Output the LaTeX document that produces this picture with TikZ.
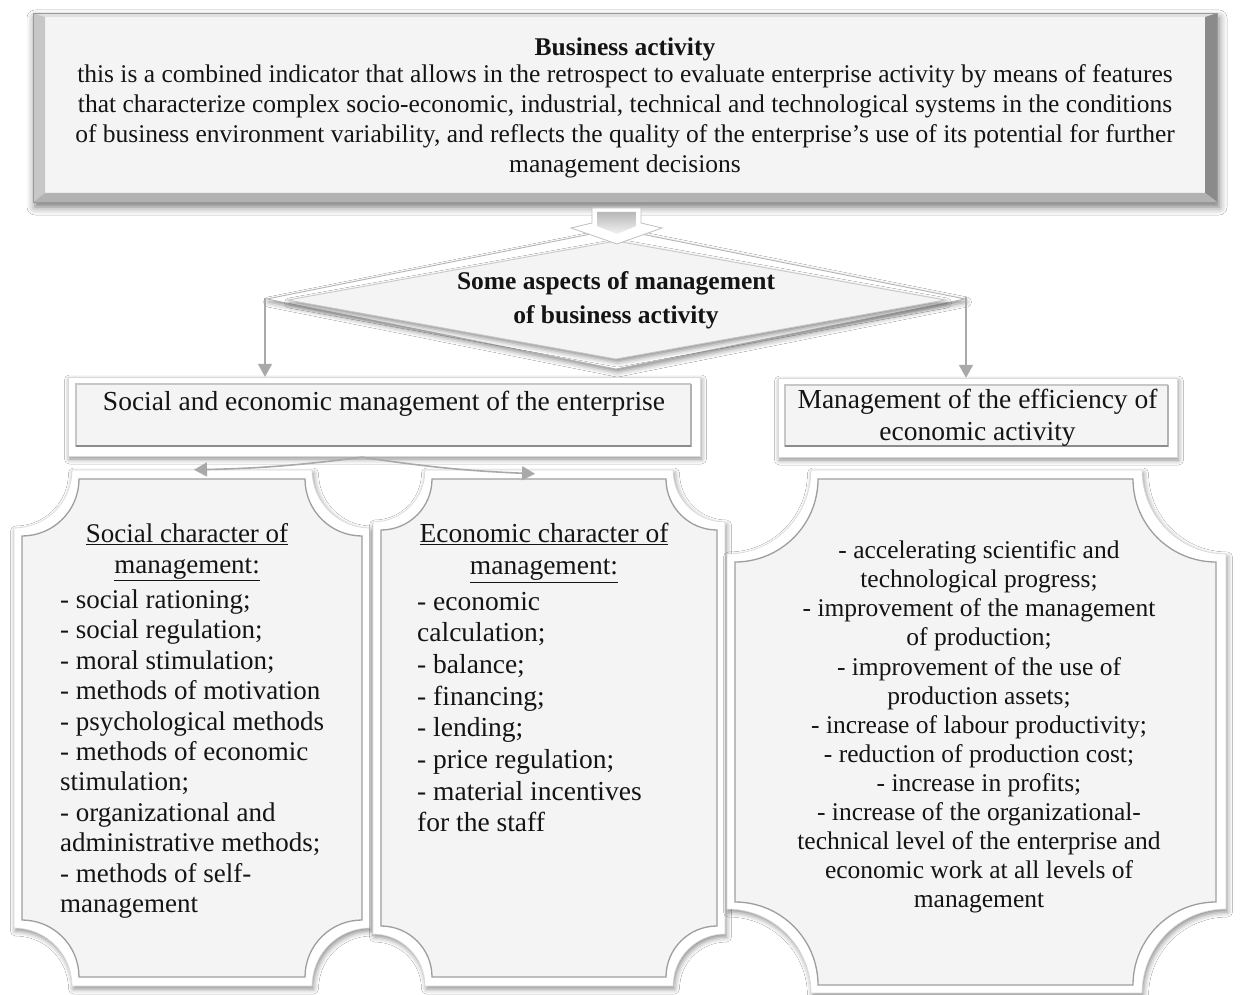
\documentclass[tikz,border=0pt]{standalone}
\usepackage{fontspec}
\setmainfont{Liberation Serif}
\usetikzlibrary{arrows.meta,shadows.blur,calc}
\definecolor{face}{HTML}{F4F4F4}
\definecolor{lineg}{HTML}{A9A9A9}
\tikzset{
  garrow/.style={draw=lineg, line width=1.8pt, -{Triangle[width=14pt,length=13pt,fill=lineg]}},
  shd/.style={blur shadow={shadow xshift=1.5pt, shadow yshift=-3pt, shadow blur radius=5pt, shadow opacity=45}},
  bigshd/.style={blur shadow={shadow xshift=2pt, shadow yshift=-5pt, shadow blur radius=8pt, shadow opacity=55}},
  outerpanel/.style={fill=white, draw=black!18, line width=0.6pt, shd},
  innerface/.style={fill=face, draw=black!38, line width=1.3pt},
  txt/.style={inner sep=0pt, text=black!92, align=center},
  frame/.style={inner sep=0pt, draw=none},
}
\newcommand\plaq[6]{%
  \pgfmathsetmacro\pk{0.5523*#5}%
  \path[#6] (#1+#5,#2) -- (#3-#5,#2)
    .. controls (#3-#5,#2+\pk) and (#3-\pk,#2+#5) .. (#3,#2+#5)
    -- (#3,#4-#5)
    .. controls (#3-\pk,#4-#5) and (#3-#5,#4-\pk) .. (#3-#5,#4)
    -- (#1+#5,#4)
    .. controls (#1+#5,#4-\pk) and (#1+\pk,#4-#5) .. (#1,#4-#5)
    -- (#1,#2+#5)
    .. controls (#1+\pk,#2+#5) and (#1+#5,#2+\pk) .. (#1+#5,#2) -- cycle;}
\begin{document}
\begin{tikzpicture}[x=1pt,y=-1pt]
\useasboundingbox (0,0) rectangle (1240,995);
\fill[white] (0,0) rectangle (1240,995);

% ---------- top box ----------
\fill[face, bigshd] (33,13) rectangle (1217,202);
\fill[black!12] (33,13) -- (1217,13) -- (1205,17) -- (45,17) -- cycle;
\fill[black!22] (33,13) -- (45,17) -- (45,193) -- (33,202) -- cycle;
\fill[black!46] (1217,13) -- (1205,17) -- (1205,193) -- (1217,202) -- cycle;
\fill[black!30] (33,202) -- (45,193) -- (1205,193) -- (1217,202) -- cycle;
\draw[black!40, line width=0.6pt] (33,13) rectangle (1217,202);
\node[txt, minimum width=1184pt, minimum height=189pt, font=\fontsize{25.5}{30}\selectfont] (top) at (625,108)
 {\textbf{Business activity}\\[-3pt]
  this is a combined indicator that allows in the retrospect to evaluate enterprise activity by means of features\\
  that characterize complex socio-economic, industrial, technical and technological systems in the conditions\\
  of business environment variability, and reflects the quality of the enterprise’s use of its potential for further\\
  management decisions};

% ---------- diamond ----------
\coordinate (dl) at (265,298);
\coordinate (dr) at (966,297);
\filldraw[fill=white, draw=black!30, line width=0.8pt, shd] (267,299) -- (616,229) -- (965,299) -- (616,369) -- cycle;
\fill[face, shd] (288,300) -- (616,241) -- (945,300) -- (616,359) -- cycle;
\draw[black!22, line width=0.8pt] (288,300) -- (616,241) -- (945,300) -- (616,359) -- cycle;
% tab
\filldraw[fill=white, draw=black!25, line width=0.8pt] (592,208) -- (641,208) -- (641,223) -- (662,228) -- (617,244) -- (571,228) -- (592,223) -- cycle;
\shade[top color=black!28, bottom color=black!5] (597,212) -- (636,212) -- (636,226) -- (617,234) -- (597,226) -- cycle;
\node[txt, font=\bfseries\fontsize{25.5}{34}\selectfont] (asp) at (616,300)
 {Some aspects of management\\ of business activity};

% ---------- second row boxes ----------
\fill[white, shd] (68,377) rectangle (700,456);
\draw[black!15, line width=0.6pt] (68,377) rectangle (700,456);
\fill[face] (76,384) rectangle (691,447);
\draw[black!22, line width=1.2pt] (76,447) -- (76,384) -- (691,384);
\draw[black!30, line width=1.5pt] (691,384) -- (691,447);
\draw[black!45, line width=2pt] (76,446) -- (691,446);
\node[frame, txt, minimum width=632pt, text height=33pt, text depth=46pt, font=\fontsize{27.5}{32}\selectfont] (soc) at (384,416.5)
 {Social and economic management of the enterprise};

\fill[white, shd] (778,378) rectangle (1177,457);
\draw[black!15, line width=0.6pt] (778,378) rectangle (1177,457);
\fill[face] (785,385) rectangle (1168,447);
\draw[black!22, line width=1.2pt] (785,447) -- (785,385) -- (1168,385);
\draw[black!30, line width=1.5pt] (1168,385) -- (1168,447);
\draw[black!45, line width=2pt] (785,446) -- (1168,446);
\node[frame, txt, minimum width=399pt, minimum height=79pt, font=\fontsize{27.5}{32}\selectfont] (eff) at (977.5,417.5)
 {Management of the efficiency of\\ economic activity};

% ---------- plaques ----------
\plaq{14}{470}{370}{986}{58}{fill=white, draw=black!15, line width=0.6pt, shd}
\plaq{22}{479}{362}{977}{57}{innerface}
\plaq{373}{470}{725}{986}{52}{fill=white, draw=black!15, line width=0.6pt, shd}
\plaq{381}{479}{717}{977}{51}{innerface}
\plaq{727}{470}{1226}{993}{84}{fill=white, draw=black!15, line width=0.6pt, shd}
\plaq{735}{479}{1216}{985}{83}{innerface}

\node[frame, minimum width=356pt, minimum height=516pt] (p1) at (192,728) {};
\node[frame, minimum width=352pt, minimum height=516pt] (p2) at (549,728) {};
\node[frame, minimum width=499pt, minimum height=523pt] (p3) at (976.5,731.5) {};

\node[txt, font=\fontsize{27}{31}\selectfont] (p1t) at (187,552)
 {\underline{Social character of}\\ \underline{management:}};
\node[txt, align=left, anchor=west, font=\fontsize{27}{30.4}\selectfont] (p1l) at (60,754)
 {- social rationing;\\
  - social regulation;\\
  - moral stimulation;\\
  - methods of motivation\\
  - psychological methods\\
  - methods of economic\\
  stimulation;\\
  - organizational and\\
  administrative methods;\\
  - methods of self-\\
  management};

\node[txt, font=\fontsize{27.5}{31.5}\selectfont] (p2t) at (544,553)
 {\underline{Economic character of}\\ \underline{management:}};
\node[txt, align=left, anchor=west, font=\fontsize{27.5}{31.7}\selectfont] (p2l) at (417,712)
 {- economic\\
  calculation;\\
  - balance;\\
  - financing;\\
  - lending;\\
  - price regulation;\\
  - material incentives\\
  for the staff};

\node[txt, font=\fontsize{25.5}{29.1}\selectfont] (p3l) at (979,727)
 {- accelerating scientific and\\
  technological progress;\\
  - improvement of the management\\
  of production;\\
  - improvement of the use of\\
  production assets;\\
  - increase of labour productivity;\\
  - reduction of production cost;\\
  - increase in profits;\\
  - increase of the organizational-\\
  technical level of the enterprise and\\
  economic work at all levels of\\
  management};

% ---------- connectors ----------
\draw[garrow] (dl) -- (dl |- soc.north);
\draw[garrow] (dr) -- (dr |- eff.north);
\coordinate (sp) at ($(soc.south)+(-22,1)$);
\draw[garrow, line width=1.6pt] (sp) to[bend left=3] ([xshift=2pt]p1.north);
\draw[garrow, line width=1.6pt] (sp) to[bend right=3] ([xshift=-14pt,yshift=-4pt]p2.north);
\end{tikzpicture}
\end{document}
